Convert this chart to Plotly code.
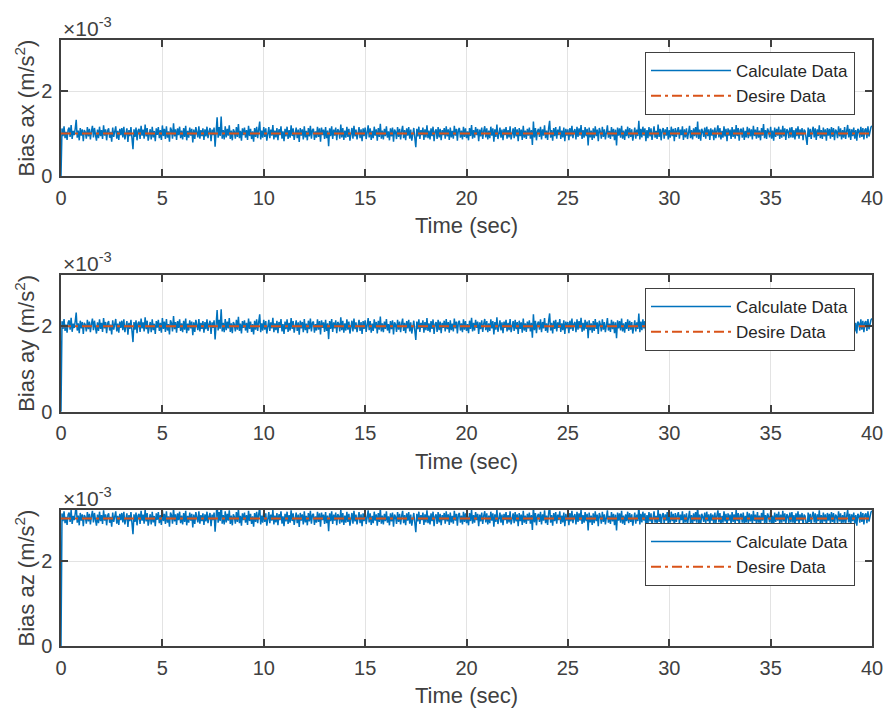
import plotly.graph_objects as go

# ---- data (bias values in units of 1e-3 m/s^2) ----
sample_period = 0.05         # s
t_end = 40
bias_labels = ["ax", "ay", "az"]
desired_bias = [1.0, 2.0, 3.0]          # x1e-3
initial_value = 0.0                    # estimator starts at 0

# deviation of the calculated bias from the desired one (x1e-3);
# the same noise pattern is visible in all three panels; one value every 0.05 s (t = 0.05 ... 40 s)
noise_dev = [
    0.12, -0.06, 0.17, -0.11, 0.04, -0.15, 0.09, 0.14, -0.08, 0.20, -0.13, 0.06, -0.04, 0.11, 0.32, -0.10, 0.07, -0.16, 0.13, -0.05,
    0.10, -0.18, 0.08, 0.03, -0.12, 0.15, -0.07, 0.11, -0.14, 0.05, 0.18, -0.09, 0.13, -0.03, -0.17, 0.09, -0.11, 0.16, -0.06, 0.08,
    -0.13, 0.19, -0.05, 0.10, -0.16, 0.07, 0.12, -0.10, 0.04, -0.19, 0.14, -0.08, 0.09, 0.17, -0.12, 0.06, -0.15, 0.11, -0.04, 0.13,
    -0.09, 0.16, -0.14, 0.05, 0.12, -0.20, 0.08, -0.06, 0.15, -0.11, -0.37, 0.10, -0.08, 0.14, -0.16, 0.07, 0.11, -0.13, 0.18, -0.05,
    0.09, -0.12, 0.21, -0.07, 0.13, -0.17, 0.04, 0.10, -0.14, 0.16, -0.09, 0.06, -0.18, 0.12, -0.03, 0.15, -0.11, 0.08, -0.15, 0.19,
    -0.06, 0.11, -0.13, 0.17, -0.10, 0.05, -0.19, 0.14, 0.08, -0.12, 0.24, -0.07, 0.10, -0.15, 0.12, -0.04, 0.16, -0.11, 0.07, -0.14,
    0.13, -0.08, 0.18, -0.16, 0.06, -0.10, 0.14, -0.05, 0.11, -0.21, 0.09, -0.13, 0.15, 0.04, -0.09, 0.17, -0.12, 0.08, -0.06, 0.12,
    -0.15, 0.10, -0.07, 0.16, -0.11, 0.05, 0.13, -0.18, 0.09, -0.04, 0.14, -0.31, 0.12, 0.38, -0.10, 0.15, -0.06, 0.40, -0.12, 0.08,
    -0.14, 0.17, -0.09, 0.11, -0.05, 0.19, -0.13, 0.07, -0.16, 0.10, 0.04, -0.12, 0.15, -0.08, 0.22, -0.11, 0.06, -0.17, 0.12, -0.04,
    0.14, -0.10, 0.08, -0.15, 0.18, -0.06, 0.11, -0.13, 0.05, -0.19, 0.13, -0.08, 0.16, -0.11, 0.09, 0.28, -0.14, 0.07, -0.10, 0.15,
    -0.08, 0.12, -0.17, 0.06, 0.15, -0.11, 0.09, -0.05, 0.20, -0.14, 0.07, -0.09, 0.13, -0.16, 0.10, -0.04, 0.17, -0.12, 0.05, -0.18,
    0.11, -0.07, 0.16, -0.13, 0.08, -0.10, 0.19, -0.06, 0.12, -0.15, 0.04, 0.14, -0.11, 0.09, -0.20, 0.13, -0.05, 0.10, -0.14, 0.17,
    -0.09, 0.06, -0.16, 0.13, -0.07, 0.18, -0.12, 0.08, 0.11, -0.15, 0.05, -0.10, 0.16, -0.08, 0.12, -0.19, 0.14, -0.04, 0.09, -0.13,
    0.15, -0.11, 0.07, -0.30, 0.12, -0.06, 0.17, -0.13, 0.09, -0.05, 0.14, -0.16, 0.10, 0.06, -0.12, 0.21, -0.09, 0.13, -0.15, 0.07,
    -0.10, 0.16, -0.08, 0.11, -0.17, 0.05, 0.13, -0.12, 0.18, -0.07, 0.09, -0.14, 0.04, 0.15, -0.11, 0.10, -0.18, 0.12, -0.06, 0.14,
    -0.13, 0.08, 0.19, -0.09, 0.12, -0.15, 0.06, -0.11, 0.16, -0.05, 0.10, -0.17, 0.13, -0.08, 0.23, -0.12, 0.07, -0.14, 0.11, -0.06,
    0.17, -0.10, 0.05, -0.16, 0.12, -0.07, 0.14, -0.19, 0.09, 0.04, -0.13, 0.15, -0.08, 0.11, -0.14, 0.06, 0.18, -0.11, 0.08, -0.16,
    0.12, -0.05, 0.15, -0.12, 0.09, -0.17, 0.06, 0.13, -0.10, -0.32, 0.11, -0.07, 0.16, -0.13, 0.08, -0.04, 0.14, -0.15, 0.10, -0.09,
    0.19, -0.11, 0.07, -0.14, 0.12, -0.06, 0.16, -0.18, 0.05, 0.10, -0.13, 0.15, -0.09, 0.11, -0.16, 0.08, -0.04, 0.13, -0.12, 0.17,
    -0.07, 0.10, -0.15, 0.14, -0.09, 0.06, -0.12, 0.18, -0.05, 0.11, -0.17, 0.09, 0.13, -0.10, 0.07, -0.14, 0.16, -0.08, 0.12, -0.11,
    0.05, -0.16, 0.13, -0.06, 0.20, -0.12, 0.08, -0.10, 0.15, -0.04, 0.11, -0.18, 0.09, -0.07, 0.14, -0.13, 0.06, 0.17, -0.09, 0.12,
    -0.14, 0.07, -0.11, 0.16, -0.05, 0.12, -0.19, 0.10, -0.08, 0.21, -0.13, 0.06, 0.14, -0.10, 0.09, -0.16, 0.11, -0.04, 0.15, -0.12,
    0.08, -0.09, 0.17, -0.14, 0.05, 0.12, -0.11, 0.15, -0.07, 0.10, -0.18, 0.13, -0.06, 0.09, -0.15, 0.18, -0.10, 0.07, -0.13, 0.11,
    -0.05, 0.14, -0.12, 0.08, -0.27, 0.28, -0.09, 0.13, -0.16, 0.06, 0.11, -0.08, 0.16, -0.14, 0.10, -0.05, 0.19, -0.11, 0.07, -0.15,
    0.12, 0.30, -0.10, 0.08, -0.17, 0.13, -0.06, 0.15, -0.12, 0.09, -0.04, 0.17, -0.13, 0.07, -0.09, 0.14, -0.18, 0.11, -0.05, 0.10,
    -0.16, 0.13, -0.07, 0.18, -0.11, 0.06, 0.10, -0.14, 0.16, -0.08, 0.12, -0.05, 0.20, -0.13, 0.08, -0.10, 0.15, -0.06, 0.11, -0.28,
    0.14, -0.09, 0.07, -0.15, 0.12, -0.11, 0.17, -0.06, 0.09, -0.18, 0.13, 0.05, -0.12, 0.16, -0.08, 0.10, -0.14, 0.08, 0.19, -0.10,
    0.06, -0.13, 0.15, -0.07, 0.11, -0.16, 0.09, -0.28, 0.14, -0.05, 0.12, -0.10, 0.18, -0.12, 0.07, -0.15, 0.10, -0.06, 0.16, -0.11,
    0.13, -0.08, 0.10, -0.17, 0.05, 0.14, -0.12, 0.09, -0.06, 0.30, -0.14, 0.11, -0.09, 0.16, -0.05, 0.12, -0.18, 0.08, -0.11, 0.15,
    -0.07, 0.12, -0.15, 0.09, 0.17, -0.10, 0.06, -0.13, 0.21, -0.08, 0.11, -0.16, 0.07, 0.13, -0.12, 0.10, -0.05, 0.15, -0.14, 0.08,
    -0.10, 0.16, -0.06, 0.11, -0.18, 0.13, -0.08, 0.07, 0.15, -0.12, 0.09, -0.04, 0.17, -0.15, 0.10, -0.09, 0.12, -0.13, 0.06, 0.18,
    -0.11, 0.08, -0.14, 0.12, -0.06, 0.15, -0.10, 0.28, -0.13, 0.09, -0.17, 0.11, 0.05, -0.08, 0.14, -0.12, 0.16, -0.06, 0.10, -0.15,
    0.12, -0.05, 0.09, -0.16, 0.14, -0.11, 0.07, 0.19, -0.09, 0.13, -0.14, 0.06, -0.10, 0.17, -0.07, 0.11, -0.18, 0.12, -0.05, 0.09,
    -0.13, 0.15, -0.08, 0.10, -0.12, 0.20, -0.06, 0.13, -0.17, 0.08, 0.11, -0.10, 0.14, -0.15, 0.06, -0.09, 0.16, -0.11, 0.12, -0.07,
    0.10, -0.14, 0.18, -0.06, 0.09, -0.12, 0.15, -0.10, 0.07, -0.16, 0.13, -0.05, 0.22, -0.11, 0.08, -0.13, 0.12, 0.05, -0.09, 0.16,
    -0.12, 0.07, -0.17, 0.14, -0.08, 0.11, -0.05, 0.16, -0.13, 0.09, -0.10, 0.18, -0.07, 0.12, -0.15, 0.10, 0.06, -0.11, 0.14, -0.09,
    0.15, -0.10, 0.08, -0.14, 0.12, -0.06, 0.17, -0.12, 0.10, -0.05, 0.13, -0.16, 0.09, 0.06, -0.11, -0.27, 0.14, -0.08, 0.11, -0.13,
    0.07, 0.16, -0.09, 0.12, -0.15, 0.10, -0.06, 0.19, -0.11, 0.08, -0.13, 0.14, -0.07, 0.10, -0.17, 0.13, -0.05, 0.11, -0.12, 0.15,
    -0.08, 0.13, -0.16, 0.09, 0.05, -0.11, 0.17, -0.07, 0.12, -0.14, 0.08, -0.10, 0.15, -0.13, 0.06, 0.20, -0.09, 0.11, -0.15, 0.10,
    -0.06, 0.14, -0.12, 0.08, -0.17, 0.11, 0.07, -0.10, 0.16, -0.08, 0.13, -0.14, 0.09, 0.12, -0.11, 0.17, -0.07, 0.10, 0.15, 0.18,
]

x_ticks = [0, 5, 10, 15, 20, 25, 30, 35, 40]
y_ticks = [0, 2]
y_range = [0, 3.2]

time = [round(i * sample_period, 3) for i in range(len(noise_dev) + 1)]

# ---- styling ----
FONT = "Liberation Sans, Arial, Helvetica, sans-serif"
TXT = "#404040"
AXC = "#404040"
GRID = "#e3e3e3"
BLUE = "#0072BD"
ORANGE = "#D95319"

W, H = 887, 710
L, R, T, B = 61, 15, 40, 64
plot_h = H - T - B
# pixel top/bottom of each panel
panels_px = [(40, 176), (275, 411.7), (510, 646)]
domains = [[(H - B - b) / plot_h, (H - B - t) / plot_h] for (t, b) in panels_px]
legend_tops = [52, 288, 523]

fig = go.Figure()
layout = dict(
    width=W, height=H,
    margin=dict(l=L, r=R, t=T, b=B, autoexpand=False),
    paper_bgcolor="white", plot_bgcolor="white",
    font=dict(family=FONT, color=TXT, size=20),
    showlegend=True,
    annotations=[],
)

for i, (lab, bias) in enumerate(zip(bias_labels, desired_bias)):
    n = i + 1
    xa = "x" if n == 1 else f"x{n}"
    ya = "y" if n == 1 else f"y{n}"
    lg = "legend" if n == 1 else f"legend{n}"
    calc = [initial_value] + [bias + d for d in noise_dev]
    desire = [bias for _ in time]
    fig.add_trace(go.Scatter(x=time, y=calc, mode="lines", name="Calculate Data",
                             line=dict(color=BLUE, width=1.5), xaxis=xa, yaxis=ya, legend=lg))
    fig.add_trace(go.Scatter(x=time, y=desire, mode="lines", name="Desire Data",
                             line=dict(color=ORANGE, width=2, dash="10px,4px,3px,4px"),
                             xaxis=xa, yaxis=ya, legend=lg))
    xkey = "xaxis" if n == 1 else f"xaxis{n}"
    ykey = "yaxis" if n == 1 else f"yaxis{n}"
    layout[xkey] = dict(
        domain=[0, 1], anchor=ya, range=[0, t_end], tickvals=x_ticks,
        ticks="inside", ticklen=7, tickwidth=1.5, tickcolor=AXC,
        showline=True, linecolor=AXC, linewidth=1.5, mirror="allticks",
        showgrid=True, gridcolor=GRID, gridwidth=1, zeroline=False,
        tickfont=dict(size=20, color=TXT), ticklabelstandoff=3, automargin=False,
        title=dict(text="Time (sec)", font=dict(size=22, color=TXT), standoff=10),
    )
    layout[ykey] = dict(
        domain=domains[i], anchor=xa, range=y_range, tickvals=y_ticks,
        ticktext=[str(v) for v in y_ticks],
        ticks="inside", ticklen=7, tickwidth=1.5, tickcolor=AXC,
        showline=True, linecolor=AXC, linewidth=1.5, mirror="allticks",
        showgrid=True, gridcolor=GRID, gridwidth=1, zeroline=False,
        tickfont=dict(size=20, color=TXT), ticklabelstandoff=3, automargin=False,
        title=dict(text=f"Bias {lab} (m/s<sup>2</sup>)", font=dict(size=22, color=TXT), standoff=0),
    )
    layout[lg] = dict(
        x=(855 - L) / (W - L - R), xanchor="right",
        y=(H - B - legend_tops[i]) / plot_h, yanchor="top",
        bgcolor="white", bordercolor=AXC, borderwidth=1,
        font=dict(size=17, color="#262626", family=FONT),
        tracegroupgap=0, itemwidth=80,
    )
    layout["annotations"].append(dict(
        text="×10<sup>-3</sup>", xref="paper", yref="paper", x=0, y=domains[i][1],
        xanchor="left", yanchor="bottom", showarrow=False,
        font=dict(size=21, color=TXT, family=FONT), yshift=-2,
    ))

fig.update_layout(**layout)
fig.write_html(
    "out.html",
    config={"displayModeBar": False},
    post_script="document.body.style.margin='0px';document.body.style.overflow='hidden';",
)
